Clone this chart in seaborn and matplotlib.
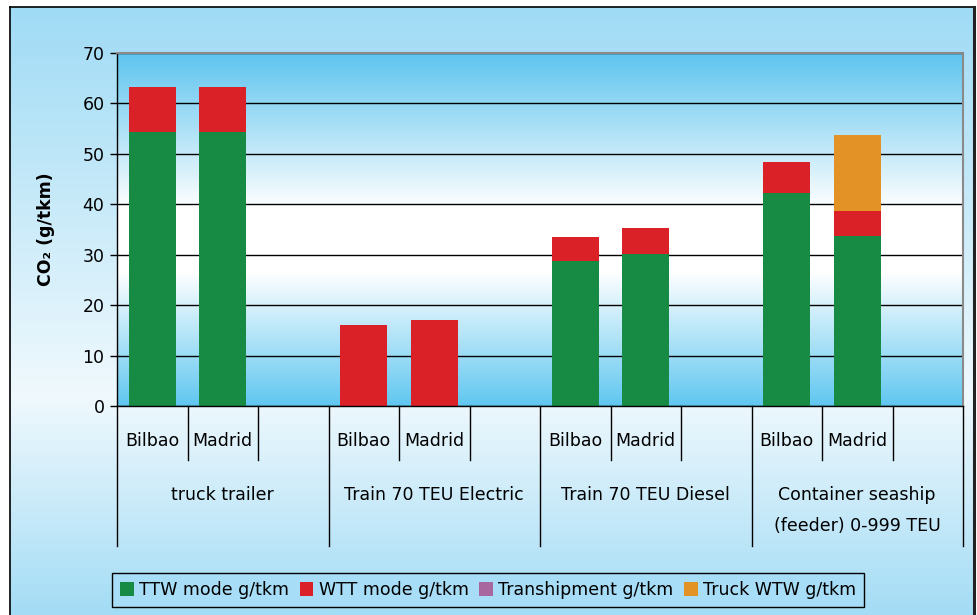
import numpy as np
import pandas as pd
import matplotlib
matplotlib.use("Agg")
import matplotlib.pyplot as plt
import matplotlib.transforms as mtransforms
from matplotlib.patches import Patch
from matplotlib.colors import to_rgb
import seaborn as sns

# ---------------- data ----------------
groups = ["truck trailer", "Train 70 TEU Electric", "Train 70 TEU Diesel",
          "Container seaship\n(feeder) 0-999 TEU"]
origins = ["Bilbao", "Madrid"]
ttw = [54.4, 54.4, 0.0, 0.0, 28.8, 30.2, 42.2, 33.7]
wtt = [8.9, 8.9, 16.1, 17.1, 4.7, 5.1, 6.2, 5.0]
transhipment = [0.0, 0.0, 0.0, 0.0, 0.0, 0.0, 0.0, 0.0]
truck_wtw = [0.0, 0.0, 0.0, 0.0, 0.0, 0.0, 0.0, 15.1]
series_names = ["TTW mode g/tkm", "WTT mode g/tkm", "Transhipment g/tkm", "Truck WTW g/tkm"]
series_colors = ["#178a44", "#da2128", "#a8679e", "#e39226"]
yticks = [0, 10, 20, 30, 40, 50, 60, 70]

# ---------------- build slot table (3 slots per group, last one empty) ----------------
rows = []
k = 0
for g in groups:
    for o in origins + [""]:
        if o:
            vals = [ttw[k], wtt[k], transhipment[k], truck_wtw[k]]
            k += 1
        else:
            vals = [0.0, 0.0, 0.0, 0.0]
        rows.append({"slot": f"{g}|{o}", "group": g, "origin": o,
                     **{s: v for s, v in zip(series_names, vals)}})
df = pd.DataFrame(rows)
order = list(df["slot"])
cum = df[series_names].cumsum(axis=1)

W, H = 977, 615
fig = plt.figure(figsize=(W / 100, H / 100), dpi=100)
fig.patch.set_facecolor("white")
plt.rcParams["font.family"] = ["DejaVu Sans"]


def vgrad(stops, n=400):
    pos = np.array([s[0] for s in stops])
    cols = np.array([to_rgb(s[1]) for s in stops])
    t = np.linspace(0, 1, n)
    arr = np.stack([np.interp(t, pos, cols[:, i]) for i in range(3)], axis=1)
    return arr[:, None, :]


# background frame with gradient
bg = fig.add_axes([0, 0, 1, 1])
bg.set_xlim(0, W)
bg.set_ylim(H, 0)
bg.axis("off")
bg.imshow(vgrad([(0, "#9fdbf5"), (0.64, "#f0f9fd"), (1, "#a3dcf5")]),
          extent=(10, 974, H, 7), aspect="auto", origin="upper")
bg.plot([10, 10], [7, H], color="black", lw=1.2)
bg.plot([10, 974], [7, 7], color="black", lw=1.2)
bg.plot([974, 974], [7, H], color="#222222", lw=2.2)
bg.set_xlim(0, W)
bg.set_ylim(H, 0)

# main axes
L, R, T, B = 117, 963, 53, 406
ax = fig.add_axes([L / W, 1 - B / H, (R - L) / W, (B - T) / H])
ax.set_facecolor("none")

colors_rev = list(reversed(series_colors))
names_rev = list(reversed(series_names))
for name, col in zip(names_rev, colors_rev):
    d = pd.DataFrame({"slot": order, "value": cum[name].values})
    sns.barplot(data=d, x="slot", y="value", order=order, color=col, saturation=1,
                width=0.667, errorbar=None, linewidth=0, ax=ax, zorder=2)

ax.imshow(vgrad([(0, "#5ec4ef"), (0.44, "#ffffff"), (0.62, "#ffffff"), (1, "#60c7f0")]),
          extent=(-0.5, 11.5, 0, 70), aspect="auto", origin="upper", zorder=0)
ax.set_xlim(-0.5, 11.5)
ax.set_ylim(0, 70)
ax.set_yticks(yticks)
ax.set_yticklabels([str(v) for v in yticks], fontsize=12.5)
ax.set_xticks([])
ax.set_xlabel("")
ax.yaxis.grid(True, color="black", lw=1)
ax.set_axisbelow(True)
ax.tick_params(axis="y", length=5, width=1, color="black", pad=4)
for s in ["left", "bottom"]:
    ax.spines[s].set_color("black")
    ax.spines[s].set_linewidth(1)
for s in ["top", "right"]:
    ax.spines[s].set_color("#8a8a8a")
    ax.spines[s].set_linewidth(1.5)

ax.set_ylabel("CO₂ (g/tkm)", fontsize=12.5, fontweight="bold")
ax.yaxis.set_label_coords((55 - L) / (R - L), 0.5)

# multi-level category axis
trans = mtransforms.blended_transform_factory(ax.transData, ax.transAxes)
ph = B - T
short_y = -(460 - B) / ph
long_y = -(546 - B) / ph
for i in range(13):
    xb = i - 0.5
    y_end = long_y if i % 3 == 0 else short_y
    ax.plot([xb, xb], [0, y_end], transform=trans, color="black", lw=1, clip_on=False)
for i, row in df.iterrows():
    if row["origin"]:
        ax.text(i, -(441 - B) / ph, row["origin"], transform=trans, ha="center",
                va="center", fontsize=12.5)
for gi, g in enumerate(groups):
    ax.text(gi * 3 + 1, -(486 - B) / ph, g, transform=trans, ha="center", va="top",
            fontsize=12.5, linespacing=1.95)

handles = [Patch(facecolor=c, edgecolor="none") for c in series_colors]
leg = fig.legend(handles, series_names, loc="center", bbox_to_anchor=(488 / W, 1 - 590 / H),
                 ncol=4, frameon=True, fancybox=False, edgecolor="black", facecolor="#a7ddf6",
                 framealpha=1, fontsize=12.5, handlelength=0.8, handleheight=0.8,
                 handletextpad=0.3, columnspacing=0.6, borderpad=0.45)
leg.get_frame().set_linewidth(1)

fig.savefig("out.png", dpi=100)
